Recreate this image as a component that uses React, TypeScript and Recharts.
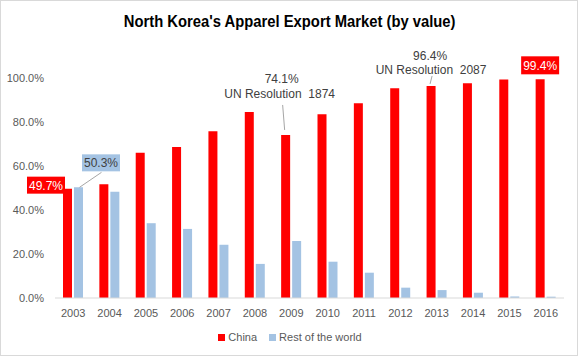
import { BarChart, Bar, XAxis, YAxis, LabelList } from 'recharts'

const years = ['2003', '2004', '2005', '2006', '2007', '2008', '2009', '2010', '2011', '2012', '2013', '2014', '2015', '2016']
const china = [49.7, 51.7, 66.0, 68.6, 75.8, 84.5, 74.1, 83.5, 88.5, 95.3, 96.4, 97.6, 99.3, 99.4]
const restOfWorld = [50.3, 48.3, 34.0, 31.4, 24.2, 15.5, 25.9, 16.5, 11.5, 4.7, 3.6, 2.4, 0.7, 0.6]
const yTicks = [0, 20, 40, 60, 80, 100]

const data = years.map((year, i) => ({ year, china: china[i], rest: restOfWorld[i] }))

const RED = '#ff0000'
const BLUE = '#a4c3e3'
const FONT = '"Liberation Sans", Arial, sans-serif'

const fmt = (v: number) => `${v.toFixed(1)}%`

const noteStyle = { whiteSpace: 'pre' as const }

function ChinaLabel(props: any) {
  const { x, y, width, index, value } = props
  const cx = x + width / 2
  if (index === 0) {
    return (
      <g>
        <rect x={x - 36} y={y - 12} width={38} height={17} fill={RED} />
        <text x={x - 17} y={y + 1} textAnchor="middle" fill="#fff" fontSize={12} fontFamily={FONT}>{fmt(value)}</text>
      </g>
    )
  }
  if (index === 6) {
    return (
      <g>
        <line x1={cx - 1} y1={y - 5} x2={cx - 3} y2={y - 30} stroke="#a6a6a6" />
        <text x={cx - 4} y={y - 52} textAnchor="middle" fill="#404040" fontSize={12} fontFamily={FONT}>{fmt(value)}</text>
        <text x={cx - 6} y={y - 37} textAnchor="middle" fill="#404040" fontSize={12} fontFamily={FONT} style={noteStyle}>UN Resolution  1874</text>
      </g>
    )
  }
  if (index === 10) {
    return (
      <g>
        <line x1={cx - 1} y1={y - 2} x2={cx + 1} y2={y - 10} stroke="#a6a6a6" />
        <text x={cx - 1} y={y - 26} textAnchor="middle" fill="#404040" fontSize={12} fontFamily={FONT}>{fmt(value)}</text>
        <text x={cx} y={y - 12} textAnchor="middle" fill="#404040" fontSize={12} fontFamily={FONT} style={noteStyle}>UN Resolution  2087</text>
      </g>
    )
  }
  if (index === 13) {
    return (
      <g>
        <rect x={cx - 19} y={y - 23} width={38} height={18} fill={RED} />
        <text x={cx} y={y - 9.5} textAnchor="middle" fill="#fff" fontSize={12} fontFamily={FONT}>{fmt(value)}</text>
      </g>
    )
  }
  return null
}

function RestLabel(props: any) {
  const { x, y, width, index, value } = props
  if (index !== 0) return null
  const cx = x + width / 2
  return (
    <g>
      <line x1={cx + 1} y1={y} x2={cx + 23} y2={y - 15} stroke="#a6a6a6" />
      <rect x={x + 8} y={y - 33} width={38} height={17} fill={BLUE} />
      <text x={x + 27} y={y - 20} textAnchor="middle" fill="#404040" fontSize={12} fontFamily={FONT}>{fmt(value)}</text>
    </g>
  )
}

export default function App() {
  return (
    <div style={{ position: 'absolute', left: 0, top: 0, width: 580, height: 356, background: '#fff' }}>
      <div style={{ position: 'absolute', left: 0, top: 0, width: 576, height: 354, border: '1px solid #d9d9d9' }} />
      <div
        style={{
          position: 'absolute',
          left: 0,
          top: 12,
          width: 580,
          textAlign: 'center',
          fontFamily: FONT,
          fontWeight: 'bold',
          fontSize: 17,
          color: '#000',
        }}
      >
        <span style={{ display: 'inline-block', transform: 'scaleX(0.87)', transformOrigin: 'center' }}>
          North Korea's Apparel Export Market (by value)
        </span>
      </div>
      <BarChart
        width={580}
        height={356}
        data={data}
        margin={{ top: 78, right: 16, bottom: 28, left: 0 }}
        barSize={9}
        barGap={2}
        style={{ position: 'absolute', left: 0, top: 0 }}
      >
        <XAxis
          dataKey="year"
          axisLine={{ stroke: '#d9d9d9' }}
          tickLine={false}
          tickMargin={5}
          tick={{ fill: '#595959', fontSize: 11, fontFamily: FONT }}
        />
        <YAxis
          width={55}
          domain={[0, 100]}
          ticks={yTicks}
          tickFormatter={(v: number) => fmt(v)}
          axisLine={false}
          tickLine={false}
          tickMargin={5}
          tick={{ fill: '#595959', fontSize: 11, fontFamily: FONT }}
        />
        <Bar dataKey="china" fill={RED} isAnimationActive={false}>
          <LabelList dataKey="china" content={ChinaLabel} />
        </Bar>
        <Bar dataKey="rest" fill={BLUE} isAnimationActive={false}>
          <LabelList dataKey="rest" content={RestLabel} />
        </Bar>
      </BarChart>
      <div
        style={{
          position: 'absolute',
          left: 0,
          top: 331,
          width: 580,
          display: 'flex',
          justifyContent: 'center',
          gap: 12,
          fontFamily: FONT,
          fontSize: 11,
          color: '#595959',
        }}
      >
        <span style={{ display: 'flex', alignItems: 'center', gap: 3 }}>
          <span style={{ width: 7, height: 7, background: RED, display: 'inline-block' }} />
          China
        </span>
        <span style={{ display: 'flex', alignItems: 'center', gap: 3 }}>
          <span style={{ width: 7, height: 7, background: BLUE, display: 'inline-block' }} />
          Rest of the world
        </span>
      </div>
    </div>
  )
}
